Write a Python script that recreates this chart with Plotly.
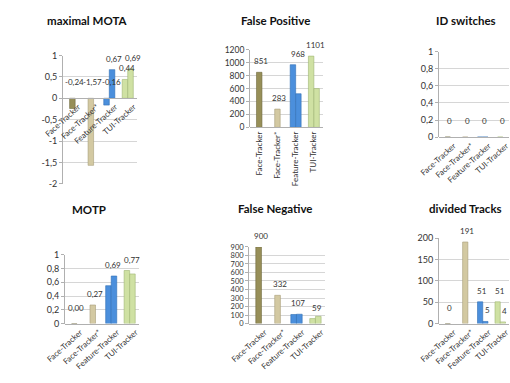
import plotly.graph_objects as go

categories = ["Face-Tracker", "Face-Tracker*", "Feature-Tracker", "TUI-Tracker"]

# two measurement runs per tracker (None = no second bar)
mota_a = [-0.24, -1.57, -0.16, 0.44]
mota_b = [None, None, 0.67, 0.69]

fp_a = [851, 283, 968, 1101]
fp_b = [None, None, 520, 600]

ids_a = [0, 0, 0, 0]
ids_b = [None, None, 0, None]

motp_a = [0.00, 0.27, 0.55, 0.77]
motp_b = [None, None, 0.69, 0.72]

fn_a = [900, 332, 107, 59]
fn_b = [None, None, 110, 85]

dt_a = [0, 191, 51, 51]
dt_b = [None, None, 5, 4]

fill = ["#978f58", "#d3c9a2", "#4b8fdc", "#cfe1a3"]
edge = ["#6f6a40", "#a89d78", "#2f6fb5", "#9fb573"]

W, H = 510, 383


def px_x(a, b):
    return [a / W, min(b / W, 1.0)]


def px_y(top, bottom):
    return [1 - bottom / H, 1 - top / H]


panels = [
    dict(title="maximal MOTA", a=mota_a, b=mota_b, la=[1, 1, 1, 1], lb=[0, 0, 1, 1],
         rng=[-2, 1], dtick=0.5, dec=2, xd=px_x(45, 122), yd=px_y(51, 183),
         angle=-42, tx=70, ty=15, tfs=9),
    dict(title="False Positive", a=fp_a, b=fp_b, la=[1, 1, 1, 1], lb=[0, 0, 0, 0],
         rng=[0, 1200], dtick=200, dec=0, xd=px_x(240, 316), yd=px_y(45, 125),
         angle=-90, tx=266, ty=15, tfs=8.5),
    dict(title="ID switches", a=ids_a, b=ids_b, la=[1, 1, 1, 1], lb=[0, 0, 0, 0],
         rng=[0, 1], dtick=0.2, dec=0, xd=px_x(437, 510), yd=px_y(47, 135),
         angle=-42, tx=465, ty=15, tfs=9),
    dict(title="MOTP", a=motp_a, b=motp_b, la=[1, 1, 0, 1], lb=[0, 0, 1, 0],
         rng=[0, 1], dtick=0.2, dec=2, xd=px_x(47, 124), yd=px_y(256, 327),
         angle=-42, tx=72, ty=210, tfs=9),
    dict(title="False Negative", a=fn_a, b=fn_b, la=[1, 1, 1, 1], lb=[0, 0, 0, 0],
         rng=[0, 900], dtick=100, dec=0, xd=px_x(239, 318), yd=px_y(248, 327),
         angle=-42, tx=266, ty=209, tfs=7.5),
    dict(title="divided Tracks", a=dt_a, b=dt_b, la=[1, 1, 1, 1], lb=[0, 0, 1, 1],
         rng=[0, 200], dtick=50, dec=0, xd=px_x(437, 512), yd=px_y(239, 327),
         angle=-42, tx=465, ty=209, tfs=9),
]

FONT = "Lato, 'Open Sans', sans-serif"
BW = 0.3


def fmt_tick(v):
    s = f"{round(v, 2):g}"
    return s.replace(".", ",")


def fmt_label(v, dec):
    return f"{v:.{dec}f}".replace(".", ",")


fig = go.Figure()
annotations = []
layout = {}

for k, p in enumerate(panels, start=1):
    xa = "x" if k == 1 else f"x{k}"
    ya = "y" if k == 1 else f"y{k}"
    idx = list(range(len(categories)))
    paired = [b is not None for b in p["b"]]
    off_a = [-BW if pr else -BW / 2 for pr in paired]
    fig.add_trace(go.Bar(
        x=idx, y=p["a"], xaxis=xa, yaxis=ya, width=BW, offset=off_a,
        marker=dict(color=fill, line=dict(color=edge, width=0.6)),
        showlegend=False, hoverinfo="skip"))
    fig.add_trace(go.Bar(
        x=idx, y=[b if b is not None else 0 for b in p["b"]], xaxis=xa, yaxis=ya,
        width=BW, offset=0,
        marker=dict(color=fill, line=dict(color=[e if pr else "rgba(0,0,0,0)" for e, pr in zip(edge, paired)], width=0.6)),
        showlegend=False, hoverinfo="skip"))

    # value labels: a single label (or one at the zero line) sits over the tracker,
    # otherwise each label sits over its own bar
    for i in idx:
        series = [(p["a"][i], -BW / 2, p["la"][i])]
        if paired[i]:
            series.append((p["b"][i], BW / 2, p["lb"][i]))
        shown = [s for s in series if s[2]]
        for v, dx, _ in shown:
            cx = i + dx if (len(shown) == 2 and v > 0) else i
            annotations.append(dict(
                x=cx, y=max(v, 0), xref=xa, yref=ya, text=fmt_label(v, p["dec"]),
                showarrow=False, yanchor="bottom", yshift=10 if v <= 0 else 5,
                xshift=2, borderpad=0, font=dict(family=FONT, size=8, color="#333333")))

    # panel title
    annotations.append(dict(
        x=p["tx"] / W, y=1 - p["ty"] / H, xref="paper", yref="paper",
        text=f"<b>{p['title']}</b>", showarrow=False, xanchor="center", yanchor="middle",
        font=dict(family=FONT, size=11.5, color="#111111")))

    lo, hi = p["rng"]
    n = int(round((hi - lo) / p["dtick"]))
    tv = [lo + j * p["dtick"] for j in range(n + 1)]
    yfrac0 = (0 - lo) / (hi - lo)
    xpos = p["yd"][0] + yfrac0 * (p["yd"][1] - p["yd"][0])

    layout[f"xaxis{'' if k == 1 else k}"] = dict(
        domain=p["xd"], range=[-0.5, len(categories) - 0.5], anchor="free", position=xpos,
        tickmode="array", tickvals=idx, ticktext=categories, tickangle=p["angle"],
        ticklabelshift=0 if p["angle"] == -90 else 6, ticklabeloverflow="allow",
        showline=True, linecolor="#b0b0b0", linewidth=1, showgrid=False, zeroline=False,
        ticks="", tickfont=dict(family=FONT, size=8, color="#333333"),
        fixedrange=True)
    layout[f"yaxis{'' if k == 1 else k}"] = dict(
        domain=p["yd"], range=[lo, hi], anchor=xa, tickmode="array", tickvals=tv,
        ticktext=[fmt_tick(v) for v in tv], showline=True, linecolor="#b0b0b0",
        gridcolor="#d6d6d6", gridwidth=1, zeroline=False, ticks="outside", ticklen=3,
        tickcolor="#b0b0b0", tickfont=dict(family=FONT, size=p["tfs"], color="#333333"),
        fixedrange=True)

fig.update_layout(
    width=W, height=H, margin=dict(l=0, r=0, t=0, b=0),
    paper_bgcolor="white", plot_bgcolor="white",
    barmode="overlay", annotations=annotations, **layout)

fig.write_html("out.html", config={"displayModeBar": False})
